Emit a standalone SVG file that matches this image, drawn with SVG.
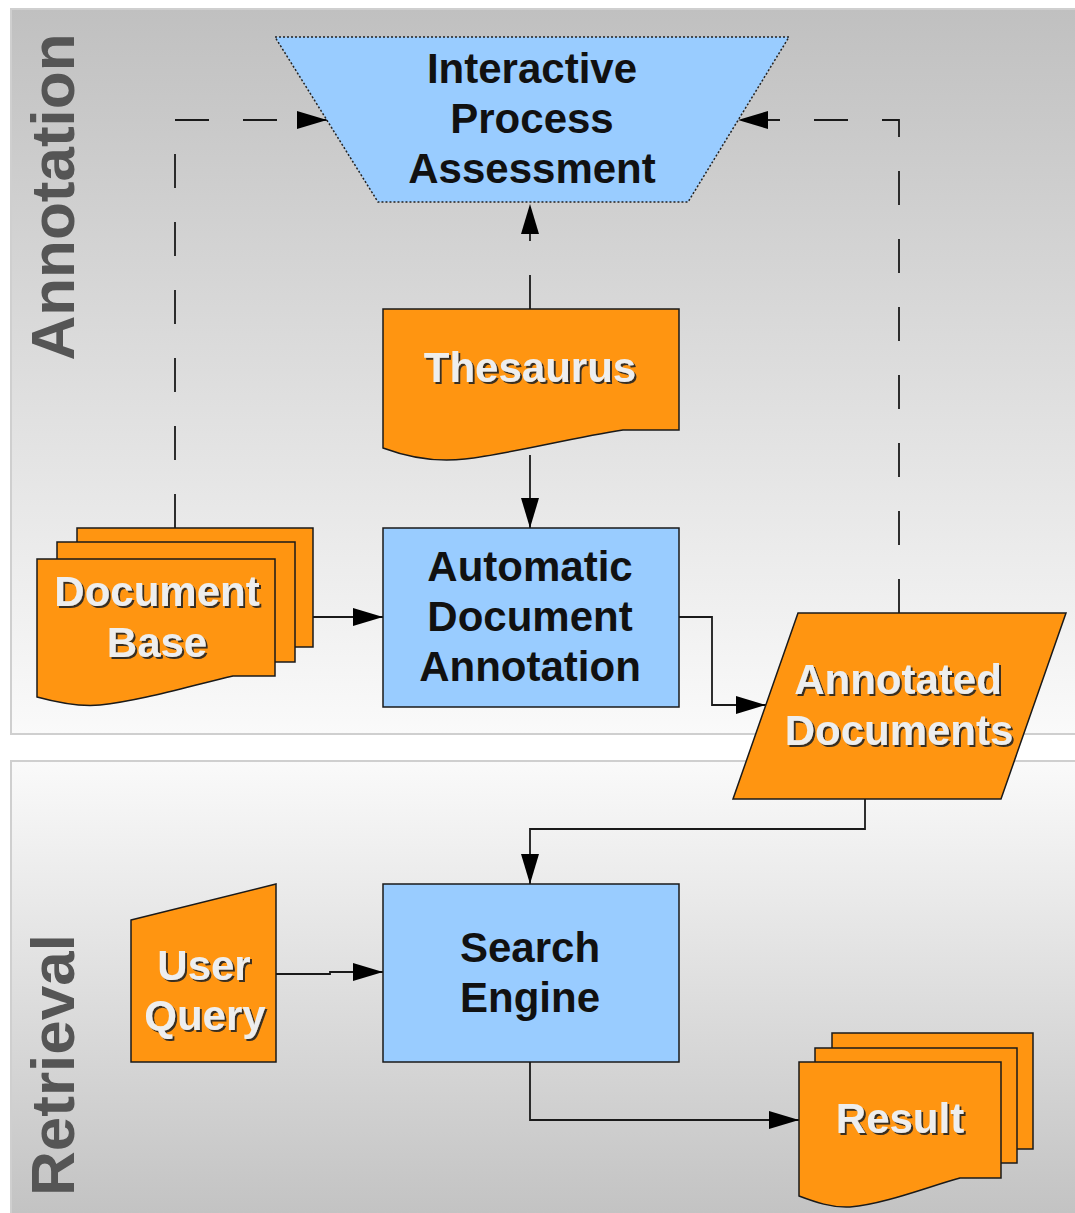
<svg xmlns="http://www.w3.org/2000/svg" width="1075" height="1213" viewBox="0 0 1075 1213">
<defs>
<linearGradient id="gTop" x1="0" y1="0" x2="0" y2="1"><stop offset="0" stop-color="#c0c0c0"/><stop offset="1" stop-color="#fafafa"/></linearGradient>
<linearGradient id="gBot" x1="0" y1="0" x2="0" y2="1"><stop offset="0" stop-color="#fafafa"/><stop offset="1" stop-color="#c2c2c2"/></linearGradient>
<filter id="sh" x="-10%" y="-20%" width="130%" height="150%"><feDropShadow dx="2" dy="2" stdDeviation="0.7" flood-color="#222" flood-opacity="0.9"/></filter>
<marker id="arr" viewBox="0 0 30 18" refX="30" refY="9" markerWidth="30" markerHeight="18" orient="auto" markerUnits="userSpaceOnUse"><path d="M0,0 L30,9 L0,18 z" fill="#000"/></marker>
<style>
.panel{stroke:#cfcfcf;stroke-width:2}
.lane{font-family:"Liberation Sans",Arial,sans-serif;font-weight:bold;font-size:62px;fill:#555;text-anchor:middle}
.orange{fill:#ff9511;stroke:#1a1a1a;stroke-width:1.5}
.blue{fill:#99ccff;stroke:#1a1a1a;stroke-width:1.5}
.dotted{fill:#99ccff;stroke:#222;stroke-width:1.5;stroke-dasharray:2 2}
.tb{font-family:"Liberation Sans",Arial,sans-serif;font-weight:bold;font-size:42px;fill:#111;text-anchor:middle}
.tw{font-family:"Liberation Sans",Arial,sans-serif;font-weight:bold;font-size:42px;fill:#eeeeee;text-anchor:middle;filter:url(#sh)}
.c{fill:none;stroke:#1a1a1a;stroke-width:1.8}
.d{fill:none;stroke:#1a1a1a;stroke-width:1.8;stroke-dasharray:34 34}
</style>
</defs>
<rect x="0" y="0" width="1075" height="1213" fill="#ffffff"/>
<g id="lane-annotation">
<rect class="panel" x="11" y="9" width="1070" height="725" fill="url(#gTop)"/>
<text class="lane" transform="translate(74,197) rotate(-90)">Annotation</text>
</g>
<g id="lane-retrieval">
<rect class="panel" x="11" y="761" width="1070" height="460" fill="url(#gBot)"/>
<text class="lane" transform="translate(74,1065) rotate(-90)">Retrieval</text>
</g>
<g id="connectors">
<path class="d" d="M530,309 V204" marker-end="url(#arr)"/>
<path class="c" d="M530,455 V528" marker-end="url(#arr)"/>
<path class="c" d="M313,617 H383" marker-end="url(#arr)"/>
<path class="c" d="M679,617 H712 V705 H766" marker-end="url(#arr)"/>
<path class="d" d="M175,528 V120 H327" marker-end="url(#arr)"/>
<path class="d" d="M899,613 V120 H738" marker-end="url(#arr)"/>
<path class="c" d="M865,799 V829 H530 V884" marker-end="url(#arr)"/>
<path class="c" d="M276,974 H330 V972 H383" marker-end="url(#arr)"/>
<path class="c" d="M530,1062 V1120 H799" marker-end="url(#arr)"/>
</g>
<g id="interactive-process-assessment">
<path class="dotted" d="M275,37 H789 L688,202 H378 Z"/>
<text class="tb" x="532" y="83">Interactive</text>
<text class="tb" x="532" y="133">Process</text>
<text class="tb" x="532" y="183">Assessment</text>
</g>
<g id="thesaurus">
<path class="orange" d="M383,309 H679 V430 H623 C570,438 510,454 465,459 C440,462 410,458 383,448 Z"/>
<text class="tw" x="530" y="382">Thesaurus</text>
</g>
<g id="automatic-document-annotation">
<rect class="blue" x="383" y="528" width="296" height="179"/>
<text class="tb" x="530" y="581">Automatic</text>
<text class="tb" x="530" y="631">Document</text>
<text class="tb" x="530" y="681">Annotation</text>
</g>
<g id="document-base">
<rect class="orange" x="77" y="528" width="236" height="119"/>
<rect class="orange" x="57" y="542" width="238" height="120"/>
<path class="orange" d="M37,559 H275 V676 H233 C190,686 140,701 100,705 C80,707 59,703 37,697 Z"/>
<text class="tw" x="157" y="606">Document</text>
<text class="tw" x="157" y="657">Base</text>
</g>
<g id="annotated-documents">
<path class="orange" d="M798,613 H1066 L1001,799 H733 Z"/>
<text class="tw" x="898" y="694">Annotated</text>
<text class="tw" x="899" y="745">Documents</text>
</g>
<g id="search-engine">
<rect class="blue" x="383" y="884" width="296" height="178"/>
<text class="tb" x="530" y="962">Search</text>
<text class="tb" x="530" y="1012">Engine</text>
</g>
<g id="user-query">
<path class="orange" d="M131,920 L276,884 V1062 H131 Z"/>
<text class="tw" x="204" y="980">User</text>
<text class="tw" x="205" y="1030">Query</text>
</g>
<g id="result">
<rect class="orange" x="832" y="1033" width="201" height="116"/>
<rect class="orange" x="815" y="1048" width="202" height="115"/>
<path class="orange" d="M799,1062 H1001 V1178 H960 C930,1186 885,1204 850,1207 C832,1208 815,1202 799,1196 Z"/>
<text class="tw" x="900" y="1133">Result</text>
</g>
</svg>
